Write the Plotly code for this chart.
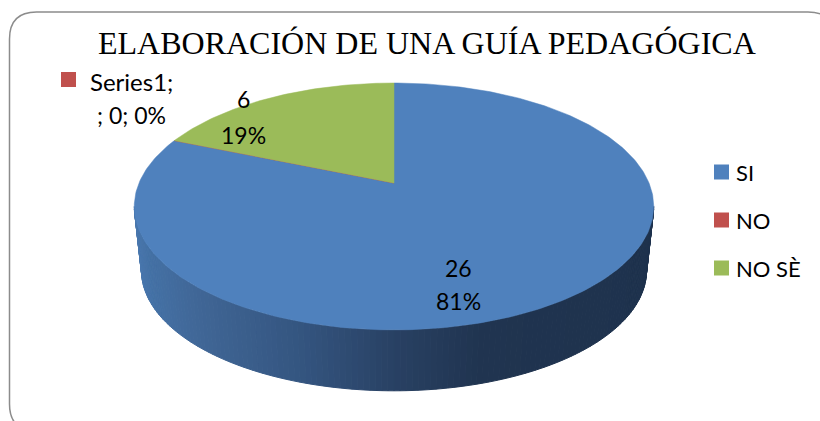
import numpy as np
import plotly.graph_objects as go

# chart data
categories = ["SI", "NO", "NO SÈ"]
values = [26, 0, 6]
title = "ELABORACIÓN DE UNA GUÍA PEDAGÓGICA"
colors = ["#4F81BD", "#C0504D", "#9BBB59"]

W, H = 820, 421
total = sum(values)

# perspective of the excel 3d pie (fitted to the picture)
APEX_X, APEX_Y = 394, 183
A, B, K = 255, 119, 0.19
SCALE, DROP = 0.972, 65


def project(theta, scale=1.0, drop=0.0):
    # theta runs clockwise from twelve o'clock
    x, y = np.sin(theta), np.cos(theta)
    d = 1 + K * y
    return APEX_X + scale * A * x / d, APEX_Y - scale * B * y / d + drop


def side_color(x):
    stops_x = [134, 150, 200, 300, 400, 480, 655]
    r = np.interp(x, stops_x, [74, 68, 64, 52, 40, 32, 30])
    g = np.interp(x, stops_x, [120, 113, 102, 85, 64, 52, 50])
    b = np.interp(x, stops_x, [175, 165, 150, 128, 98, 80, 77])
    return f"rgb({r:.0f},{g:.0f},{b:.0f})"


fig = go.Figure()

# side wall, drawn as thin strips so it can carry the horizontal gradient
edge = np.arcsin(K)
wall = np.linspace(np.pi / 2 + edge, 3 * np.pi / 2 - edge, 141)
for t0, t1 in zip(wall[:-1], wall[1:]):
    ts = np.array([t0, t1])
    xt, yt = project(ts)
    xb, yb = project(ts[::-1], SCALE, DROP)
    xs = np.r_[xt, xb, xt[0]]
    ys = np.r_[yt, yb, yt[0]]
    c = side_color(xs.mean())
    fig.add_trace(go.Scatter(x=xs, y=ys, mode="lines", fill="toself", fillcolor=c,
                             line=dict(color=c, width=1), hoverinfo="skip", showlegend=False))

# top face, one wedge per category
start = 0
for cat, val, col in zip(categories, values, colors):
    end = start + val
    th = 2 * np.pi * np.linspace(start, end, max(2, val * 12)) / total
    xa, ya = project(th)
    fig.add_trace(go.Scatter(x=np.r_[APEX_X, xa, APEX_X], y=np.r_[APEX_Y, ya, APEX_Y],
                             mode="lines", fill="toself", fillcolor=col, line=dict(color=col, width=0.5),
                             name=cat, hoverinfo="skip", showlegend=False))
    start = end


def label(x, y, text, xanchor="center", size=23):
    fig.add_annotation(x=x, y=y, text=text, showarrow=False, xanchor=xanchor,
                       font=dict(family="Lato, Carlito, sans-serif", size=size, color="#000000"),
                       yanchor="middle", xref="x", yref="y")


# data labels
label(458, 268, str(values[0]))
label(458, 301, f"{values[0] / total:.0%}")
label(243, 99, str(values[2]))
label(243, 135, f"{values[2] / total:.0%}")

# leftover excel label for the empty slice
fig.add_trace(go.Scatter(x=[68.5], y=[79.5], mode="markers", hoverinfo="skip", showlegend=False,
                         marker=dict(symbol="square", size=15, color=colors[1], line=dict(width=0))))
label(131, 81, "Series1;", size=24)
label(131, 115, f"; {values[1]}; {values[1] / total:.0%}")

# legend
for cat, col, y in zip(categories, colors, [172, 220, 268]):
    fig.add_trace(go.Scatter(x=[721.5], y=[y], mode="markers", hoverinfo="skip", showlegend=False,
                             marker=dict(symbol="square", size=15, color=col, line=dict(width=0))))
    label(734, y, cat, xanchor="left", size=22)

fig.add_annotation(x=427, y=43, text=title, showarrow=False, xref="x", yref="y",
                   font=dict(family="Liberation Serif, Times New Roman, serif", size=32, color="#000000"))

# rounded chart frame, runs off the right and bottom of the picture
L, T, R, Bt, Rd = 9.5, 12, 835, 431, 27
frame = (f"M {L + Rd} {T} L {R - Rd} {T} Q {R} {T} {R} {T + Rd} L {R} {Bt - Rd} Q {R} {Bt} {R - Rd} {Bt} "
         f"L {L + Rd} {Bt} Q {L} {Bt} {L} {Bt - Rd} L {L} {T + Rd} Q {L} {T} {L + Rd} {T} Z")
fig.add_shape(type="path", path=frame, xref="x", yref="y", line=dict(color="#8C8C8C", width=1.5), layer="below")

fig.update_xaxes(range=[0, W], visible=False, fixedrange=True)
fig.update_yaxes(range=[H, 0], visible=False, fixedrange=True)
fig.update_layout(width=W, height=H, margin=dict(l=0, r=0, t=0, b=0), showlegend=False,
                  paper_bgcolor="white", plot_bgcolor="white")

# the page's default body margin would push the chart 8px down and right
fig.write_html("out.html", config={"displayModeBar": False}, post_script="document.body.style.margin='0';")
